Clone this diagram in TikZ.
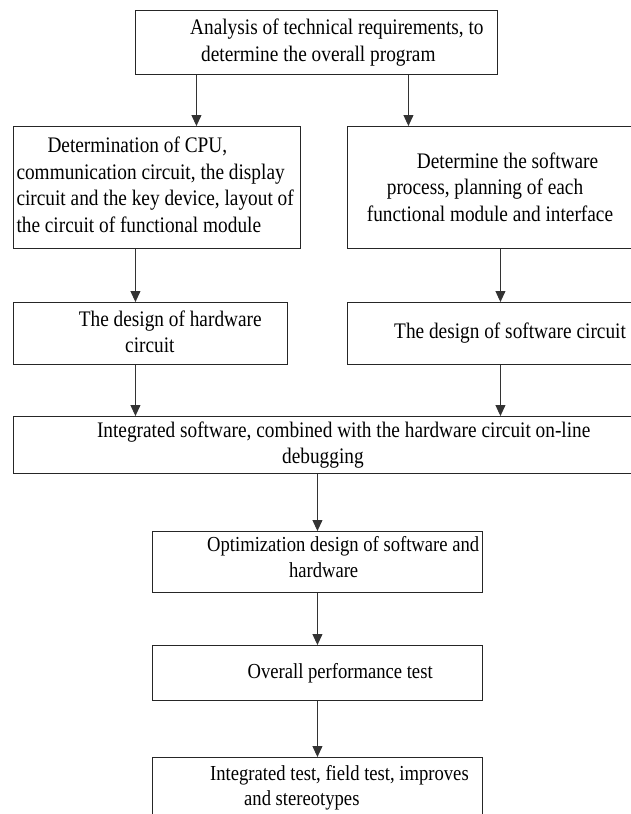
\documentclass[tikz,border=0pt]{standalone}
\usepackage{fontspec}
\setmainfont{Liberation Serif}[FakeStretch=0.87]
\usetikzlibrary{arrows.meta}
\tikzset{
  box/.style={draw=black!85, line width=0.9pt, anchor=north west, inner sep=0pt},
  txt/.style={anchor=west, align=left, inner sep=0pt, font=\fontsize{22.2}{26.5}\selectfont},
  lowtxt/.style={txt, font=\fontsize{21.4}{25.5}\selectfont},
  arr/.style={draw=black!80, line width=0.9pt, -{Triangle[length=11pt,width=10pt]}},
}
\begin{document}
\begin{tikzpicture}[x=1pt,y=-1pt]
  \useasboundingbox (0,0) rectangle (630,814);
  % boxes
  \node[box, minimum width=362pt, minimum height=64pt] (req) at (135,10) {};
  \node[box, minimum width=287pt, minimum height=122pt] (cpu) at (13,126) {};
  \node[box, minimum width=300pt, minimum height=122pt] (soft) at (347,126) {};
  \node[box, minimum width=274pt, minimum height=62pt] (hw) at (13,302) {};
  \node[box, minimum width=300pt, minimum height=62pt] (sw) at (347,302) {};
  \node[box, minimum width=630pt, minimum height=57pt] (integ) at (13,416) {};
  \node[box, minimum width=330pt, minimum height=61pt] (opt) at (152,531) {};
  \node[box, minimum width=330pt, minimum height=55pt] (perf) at (152,645) {};
  \node[box, minimum width=330pt, minimum height=70pt] (test) at (152,757) {};
  % texts
  \node[txt] (req-t) at (190,42.5) {Analysis of technical requirements, to\\\hspace*{11pt}determine the overall program};
  \node[txt] (cpu-t) at (16.3,185) {\hspace*{31pt}Determination of CPU,\\communication circuit, the display\\circuit and the key device, layout of\\the circuit of functional module};
  \node[txt] (soft-t) at (366.7,187) {\hspace*{50pt}Determine the software\\\hspace*{20pt}process, planning of each\\functional module and interface};
  \node[txt] (hw-t) at (78.6,332) {The design of hardware\\\hspace*{46.4pt}circuit};
  \node[txt] (sw-t) at (394,333) {The design of software circuit};
  \node[txt] (integ-t) at (96.8,445) {Integrated software, combined with the hardware circuit on-line\\\hspace*{185.2pt}debugging};
  \node[lowtxt] (opt-t) at (207,557) {Optimization design of software and\\\hspace*{81.8pt}hardware};
  \node[lowtxt] (perf-t) at (247.4,673) {Overall performance test};
  \node[lowtxt] (test-t) at (210,788) {Integrated test, field test, improves\\\hspace*{34pt}and stereotypes};
  % arrows
  \draw[arr] ([xshift=-120pt]req.south) -- ([xshift=-120pt]req.south |- cpu.north);
  \draw[arr] ([xshift=92pt]req.south) -- ([xshift=92pt]req.south |- soft.north);
  \draw[arr] ([xshift=-21.5pt]cpu.south) -- ([xshift=-21.5pt]cpu.south |- hw.north);
  \draw[arr] ([xshift=3pt]soft.south) -- ([xshift=3pt]soft.south |- sw.north);
  \draw[arr] ([xshift=-15pt]hw.south) -- ([xshift=-15pt]hw.south |- integ.north);
  \draw[arr] ([xshift=3pt]sw.south) -- ([xshift=3pt]sw.south |- integ.north);
  \draw[arr] (integ.south -| opt.north) -- (opt.north);
  \draw[arr] (opt.south) -- (perf.north);
  \draw[arr] (perf.south) -- (test.north);
\end{tikzpicture}
\end{document}
